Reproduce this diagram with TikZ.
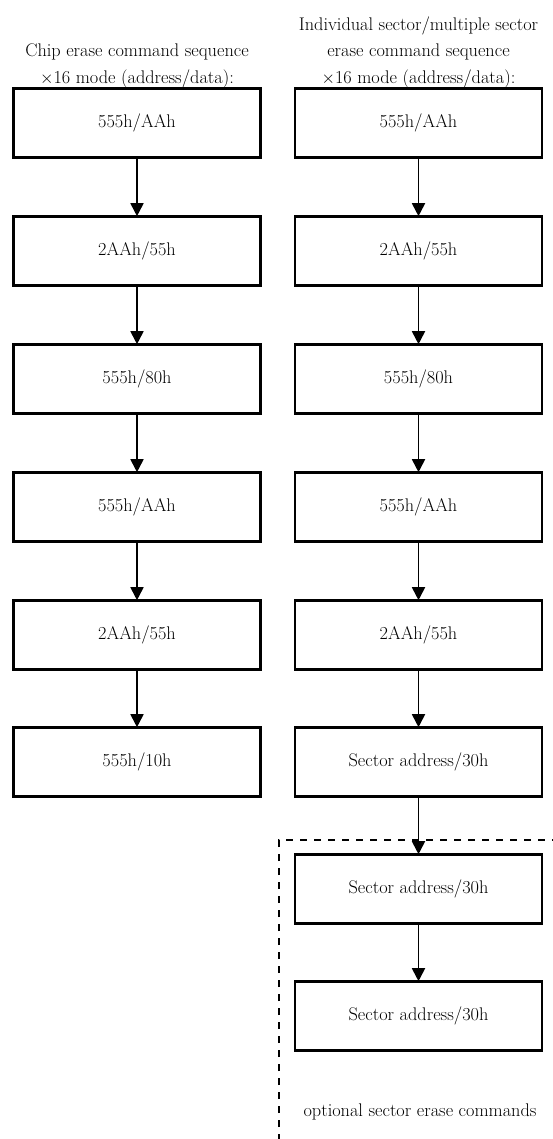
\documentclass[tikz,border=0pt]{standalone}
\usetikzlibrary{arrows.meta}
\begin{document}
\begin{tikzpicture}[x=1pt,y=-1pt,
  stepbox/.style={draw,line width=2.6pt,minimum width=247pt,minimum height=69pt,inner sep=0pt,font=\fontsize{18.3}{22}\selectfont},
  flow/.style={line width=1.8pt,-{Triangle[length=13pt,width=13pt]},shorten >=-1pt},
  hdr/.style={align=center,font=\fontsize{18.3}{26.5}\selectfont,inner sep=0pt},
  optbox/.style={line width=2pt,dash pattern=on 7pt off 7pt}]
\useasboundingbox (0,0) rectangle (553,1139);
% headers
\node[hdr,anchor=south] (hl) at (137,88) {Chip erase command sequence\\$\times$16 mode (address/data):};
\node[hdr,anchor=south] (hr) at (418.5,88) {Individual sector/multiple sector\\erase command sequence\\$\times$16 mode (address/data):};
% left column
\node[stepbox] (l1) at (137,123) {555h/AAh};
\node[stepbox] (l2) at (137,251) {2AAh/55h};
\node[stepbox] (l3) at (137,379) {555h/80h};
\node[stepbox] (l4) at (137,507) {555h/AAh};
\node[stepbox] (l5) at (137,635) {2AAh/55h};
\node[stepbox] (l6) at (137,762) {555h/10h};
% right column
\node[stepbox] (r1) at (418.5,123) {555h/AAh};
\node[stepbox] (r2) at (418.5,251) {2AAh/55h};
\node[stepbox] (r3) at (418.5,379) {555h/80h};
\node[stepbox] (r4) at (418.5,507) {555h/AAh};
\node[stepbox] (r5) at (418.5,635) {2AAh/55h};
\node[stepbox] (r6) at (418.5,762) {Sector address/30h};
\node[stepbox] (r7) at (418.5,889) {Sector address/30h};
\node[stepbox] (r8) at (418.5,1016) {Sector address/30h};
% dashed optional region
\coordinate (dtl) at (279,840);
\coordinate (dtr) at (555,840);
\coordinate (dbl) at (279,1141);
\draw[optbox] (dbl) -- (dtl) -- (dtr);
\node[font=\fontsize{18.3}{22}\selectfont,inner sep=0pt] (opt) at (420,1112) {optional sector erase commands};
% arrows
\foreach \a/\b in {l1/l2,l2/l3,l3/l4,l4/l5,l5/l6,r1/r2,r2/r3,r3/r4,r4/r5,r5/r6,r6/r7,r7/r8}
  \draw[flow] (\a.south) -- (\b.north);
\end{tikzpicture}
\end{document}
